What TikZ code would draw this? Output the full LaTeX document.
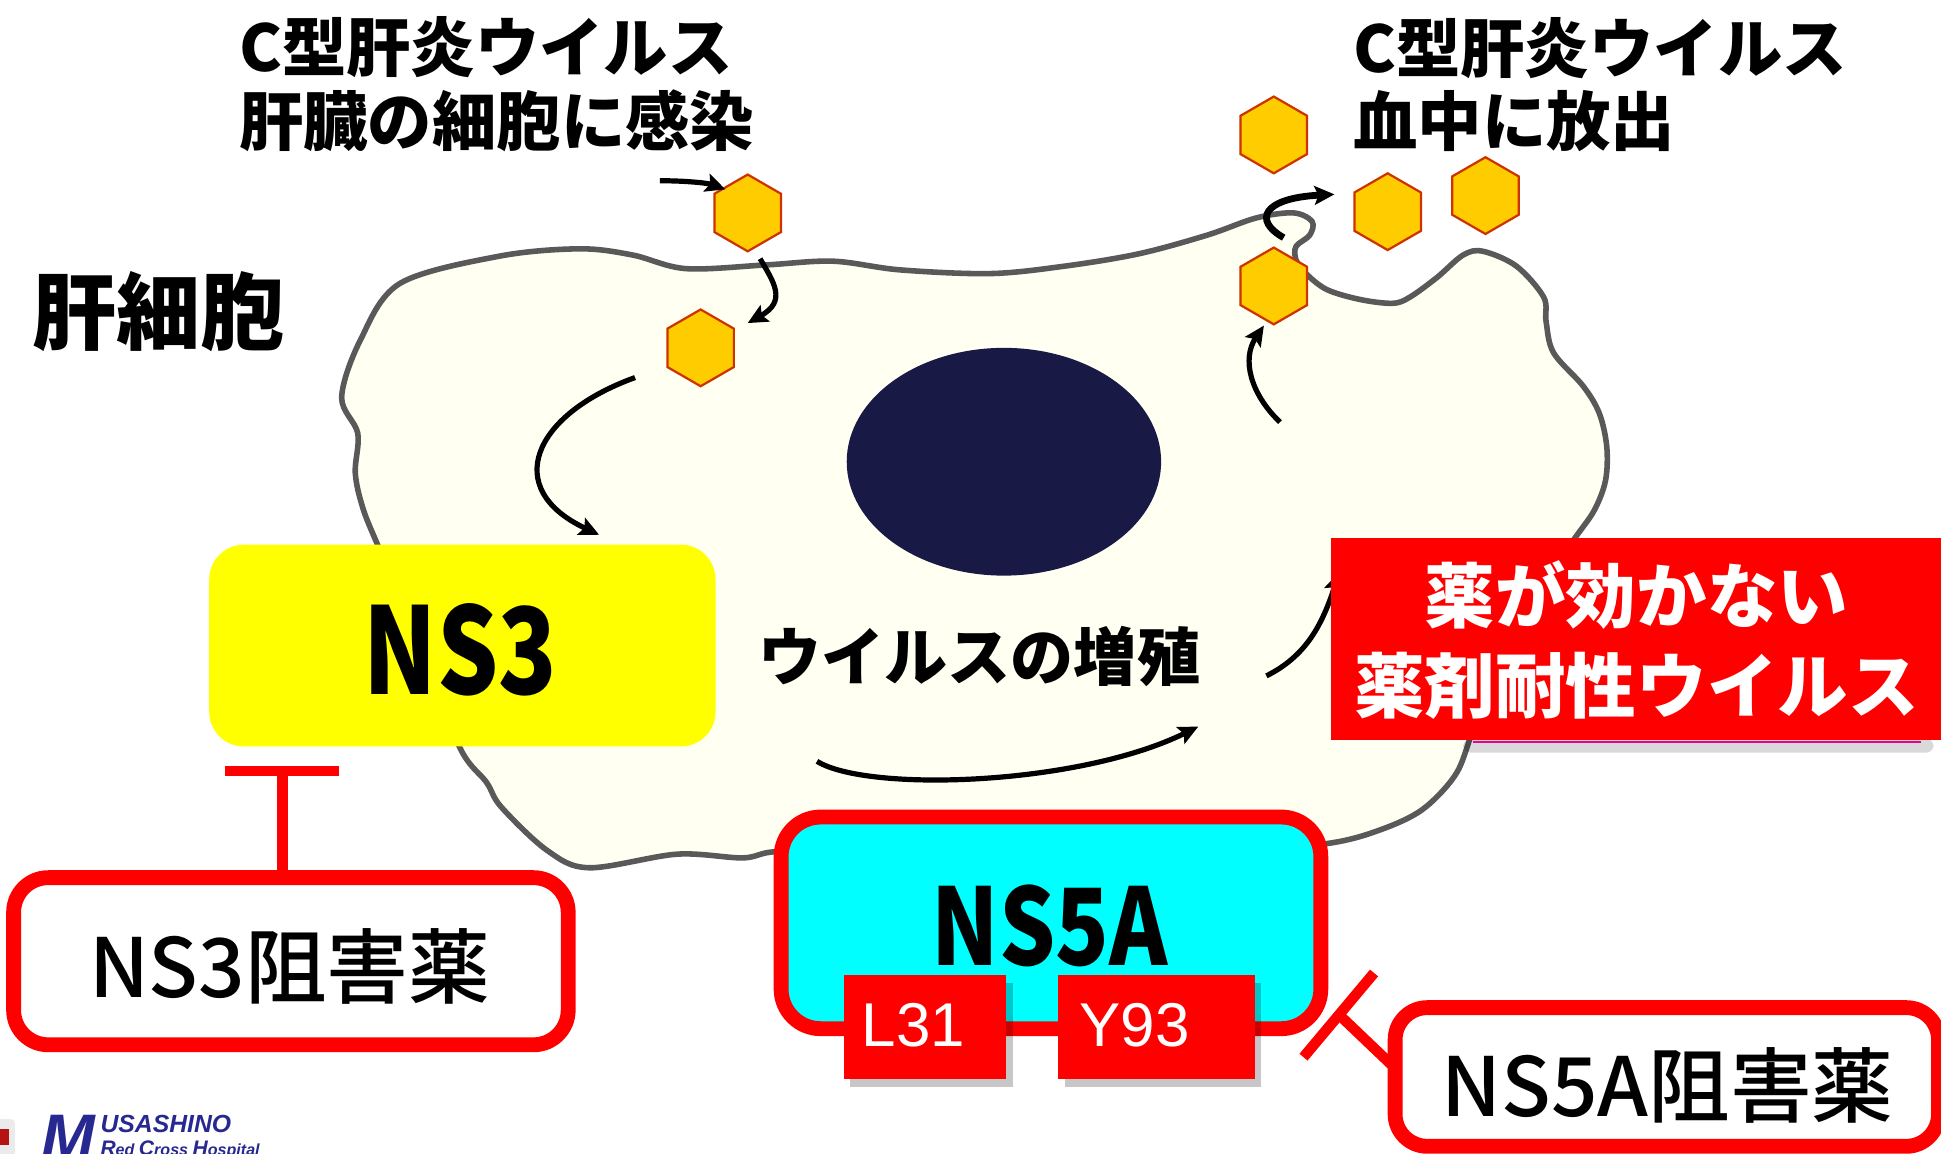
\documentclass[tikz,border=0pt]{standalone}
\usepackage{fontspec}
\usetikzlibrary{arrows.meta,shapes.geometric,shadows}
\newfontfamily\popfont{Noto Sans CJK JP}[UprightFont={* Black}]
\newfontfamily\gothfont{Noto Sans CJK JP}[UprightFont={* Medium}]
\newfontfamily\latinfont{Liberation Sans}

\definecolor{cellfill}{RGB}{255,255,242}
\definecolor{cellgray}{RGB}{89,89,89}
\definecolor{nucleuscol}{RGB}{25,25,70}
\definecolor{hexfill}{RGB}{255,204,0}
\definecolor{hexline}{RGB}{204,51,0}
\definecolor{alarmred}{RGB}{255,0,0}
\definecolor{nsfivecyan}{RGB}{0,255,255}
\definecolor{nsthreeyellow}{RGB}{255,255,0}
\definecolor{logoblue}{RGB}{40,40,145}
\definecolor{logored}{RGB}{180,20,20}

\begin{document}
\begin{tikzpicture}[x=1pt,y=-1pt,
  cellline/.style={draw=cellgray, line width=4.5pt, fill=cellfill},
  virion/.style={regular polygon, regular polygon sides=6, shape border rotate=30,
    minimum size=62pt, inner sep=0pt, fill=hexfill, draw=hexline, line width=1.8pt},
  flow/.style={line width=4.2pt, -{Stealth[length=16pt,width=15pt,inset=3pt]}},
  poptext/.style 2 args={inner sep=0pt, text=black,
    font=\popfont\fontsize{#1}{#2}\selectfont},
  gothtext/.style={inner sep=0pt, text=black, font=\gothfont\fontsize{66}{66}\selectfont},
  drugbox/.style={rectangle, rounded corners=28pt, draw=alarmred, line width=12pt,
    fill=white, inner sep=0pt},
  sitebox/.style={rectangle, fill=alarmred, inner sep=0pt, minimum height=84pt,
    drop shadow={shadow xshift=5pt, shadow yshift=-6pt, fill=black, opacity=0.22}},
  sitetext/.style={inner sep=0pt, text=white, font=\latinfont\fontsize{50}{50}\selectfont},
  inhib/.style={draw=alarmred, line width=8.5pt},
]
\useasboundingbox (0,0) rectangle (1568,932);
\clip (0,0) rectangle (1568,932);
\fill[white] (0,0) rectangle (1568,932);

% hepatocyte membrane
\draw[cellline] plot[smooth cycle, tension=0.55] coordinates {
  (276,321) (291,275) (323,229) (403,207) (468,201) (511,206) (554,217)
  (619,214) (673,211) (727,218) (800,221) (860,215) (920,205) (975,190)
  (1015,176) (1045,172) (1060,179) (1058,190) (1047,199) (1047,210)
  (1055,221) (1072,234) (1099,242) (1125,245) (1139,240) (1161,224)
  (1182,206) (1198,203) (1225,215) (1247,240) (1249,260) (1255,285)
  (1279,312) (1292,334) (1298,361) (1297,388) (1288,412) (1272,435)
  (1240,480) (1205,540) (1187,598) (1175,627) (1149,654) (1116,670)
  (1075,681) (1000,688) (850,690) (700,690) (628,688) (600,693) (547,690)
  (476,701) (442,687) (405,652) (393,632) (371,603) (340,520) (305,440)
  (293,410) (287,382) (289,350)};

% nucleus
\node[ellipse, fill=nucleuscol, minimum width=254pt, minimum height=184pt, inner sep=0pt]
  (nucleus) at (811,373) {};

% virus particles
\node[virion] (v1) at (604,172) {};
\node[virion] (v2) at (566,281) {};
\node[virion] (v3) at (1029,109) {};
\node[virion] (v4) at (1121,171) {};
\node[virion] (v5) at (1200,158) {};
\node[virion] (v6) at (1029,231) {};

% life-cycle arrows
\coordinate (a1s) at (533,146); \coordinate (a1e) at (586,153);
\coordinate (a2s) at (614,209); \coordinate (a2e) at (604,261);
\coordinate (a3s) at (513,305); \coordinate (a3e) at (484,432);
\coordinate (a4s) at (660,615); \coordinate (a4e) at (968,587);
\coordinate (a5s) at (1023,546); \coordinate (a5e) at (1082,462);
\coordinate (a6s) at (1034,341); \coordinate (a6e) at (1021,263);
\coordinate (a7s) at (1037,192); \coordinate (a7e) at (1078,157);
\draw[flow] (a1s) .. controls (555,146) and (572,148) .. (a1e);
\draw[flow] (a2s) .. controls (625,228) and (636,243) .. (a2e);
\draw[flow] (a3s) .. controls (430,335) and (405,395) .. (a3e);
\draw[flow] (a4s) .. controls (700,640) and (870,635) .. (a4e);
\draw[flow] (a5s) .. controls (1055,530) and (1068,505) .. (a5e);
\draw[flow] (a6s) .. controls (1010,318) and (1003,290) .. (a6e);
\draw[flow, line width=5.5pt] (a7s) .. controls (1012,178) and (1020,160) .. (a7e);

% captions
\node[poptext={52}{59}, anchor=west, align=left] (infect) at (193,68)
  {C型肝炎ウイルス\\肝臓の細胞に感染};
\node[poptext={52}{59}, anchor=west, align=left] (release) at (1093,68)
  {C型肝炎ウイルス\\血中に放出};
\node[poptext={68}{68}] (hepatocyte) at (128,252) {肝細胞};
\node[poptext={51}{51}] (replication) at (791,530) {ウイルスの増殖};

% NS3 protease
\node[rectangle, rounded corners=28pt, fill=nsthreeyellow, minimum width=409pt,
  minimum height=163pt, inner sep=0pt] (ns3) at (373.5,521.5) {};
\node[poptext={97}{97}] (ns3label) at (372,525) {\scalebox{0.8}[1]{NS3}};

% drug-resistant virus banner
\fill[black, opacity=0.15, rounded corners=6pt] (1182,597) rectangle (1562,608);
\draw[magenta, line width=1.5pt] (1190,599.5) -- (1552,599.5);
\node[rectangle, fill=alarmred, minimum width=525pt, minimum height=163pt, inner sep=0pt]
  (resist) at (1337.5,516.5) {};
\node[poptext={57}{72}, text=white, align=center]
  (resistlabel) at (1322,517) {薬が効かない\\薬剤耐性ウイルス};

% NS5A protein with resistance sites
\node[rectangle, rounded corners=32pt, draw=alarmred, line width=12pt, fill=nsfivecyan,
  minimum width=436pt, minimum height=171pt, inner sep=0pt] (ns5a) at (849,745.5) {};
\node[poptext={86}{86}] (ns5alabel) at (848,748) {\scalebox{0.83}[1]{NS5A}};
\node[sitebox, minimum width=131pt] (l31) at (747.5,830) {};
\node[sitetext] (l31label) at (738,828) {L31};
\node[sitebox, minimum width=159pt] (y93) at (934.5,830) {};
\node[sitetext] (y93label) at (916.5,828) {Y93};

% inhibitors
\node[drugbox, minimum width=448pt, minimum height=135pt] (ns3drug) at (235,776.5) {};
\node[gothtext] (ns3druglabel) at (234,781) {NS3阻害薬};
\node[drugbox, rounded corners=26pt, minimum width=439pt, minimum height=112pt]
  (ns5adrug) at (1346.5,870) {};
\node[gothtext] (ns5adruglabel) at (1347,877) {NS5A阻害薬};

\coordinate (t3top) at (228,623);
\coordinate (t3l) at (182,623);
\coordinate (t3r) at (274,623);
\draw[inhib, line width=9pt] (ns3drug.north -| t3top) -- (t3top);
\draw[inhib] (t3l) -- (t3r);

\coordinate (t5c) at (1082,820);
\coordinate (t5a) at (1110,786);
\coordinate (t5b) at (1053,854);
\coordinate (t5s) at (1125,861);
\draw[inhib] (t5s) -- (t5c);
\draw[inhib] (t5a) -- (t5b);

% hospital logo
\fill[black, opacity=0.08, rounded corners=3pt] (-6,904) rectangle (12,934);
\fill[logored] (0,912) rectangle (7,925);
\node[anchor=north west, inner sep=0pt, text=logoblue,
  font=\latinfont\bfseries\itshape\fontsize{52}{52}\selectfont] (logoM) at (33,901) {M};
\node[anchor=north west, inner sep=0pt, text=logoblue,
  font=\latinfont\bfseries\itshape\fontsize{20}{20}\selectfont] (logoname) at (81,901) {USASHINO};
\node[anchor=north west, inner sep=0pt, text=logoblue,
  font=\latinfont\bfseries\itshape\fontsize{13}{13}\selectfont] (logosub) at (81,921)
  {{\fontsize{17}{17}\selectfont R}ed {\fontsize{17}{17}\selectfont C}ross {\fontsize{17}{17}\selectfont H}ospital};
\end{tikzpicture}
\end{document}
